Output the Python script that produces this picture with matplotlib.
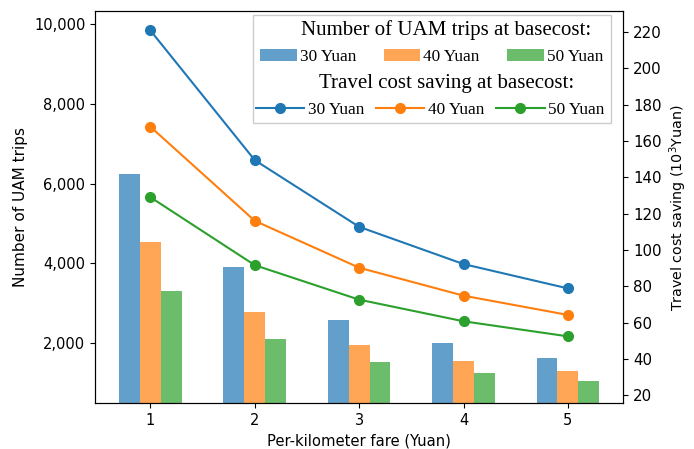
import matplotlib.pyplot as plt
import numpy as np
from matplotlib.patches import Rectangle
from matplotlib.ticker import FuncFormatter

fares = [1, 2, 3, 4, 5]
basecosts = ["30 Yuan", "40 Yuan", "50 Yuan"]

# number of UAM trips per basecost
trips_30 = [6250, 3915, 2585, 2000, 1625]
trips_40 = [4540, 2790, 1960, 1550, 1315]
trips_50 = [3300, 2110, 1535, 1250, 1060]

# travel cost saving (10^3 Yuan) per basecost
saving_30 = [220.8, 149.4, 112.7, 92.2, 78.8]
saving_40 = [167.8, 116.0, 90.2, 74.8, 64.2]
saving_50 = [129.0, 91.6, 72.6, 60.7, 52.4]

colors = ["#1f77b4", "#ff7f0e", "#2ca02c"]

fig = plt.figure(figsize=(6.94, 4.49), dpi=100)
ax = fig.add_axes([0.137, 0.102, 0.761, 0.873])
ax2 = ax.twinx()

x = np.array(fares)
w = 0.2
bars = []
for i, vals in enumerate([trips_30, trips_40, trips_50]):
    b = ax.bar(x + (i - 1) * w, vals, w, color=colors[i], alpha=0.7, label=basecosts[i])
    bars.append(b)

lines = []
for i, vals in enumerate([saving_30, saving_40, saving_50]):
    l, = ax2.plot(x, vals, "-o", color=colors[i], lw=1.5, ms=7, label=basecosts[i])
    lines.append(l)

ax.set_ylim(500, 10320)
ax2.set_ylim(15.6, 231.4)
ax.set_xticks(fares)
ax.set_yticks([2000, 4000, 6000, 8000, 10000])
ax.yaxis.set_major_formatter(FuncFormatter(lambda v, p: f"{int(v):,}"))
ax2.set_yticks(range(20, 221, 20))
ax.tick_params(labelsize=10.5)
ax2.tick_params(labelsize=10.8)

ax.set_xlabel("Per-kilometer fare (Yuan)", fontsize=10.6)
ax.set_ylabel("Number of UAM trips", fontsize=11)
ax2.set_ylabel("Travel cost saving (10$^3$Yuan)", fontsize=10.3)

serif = "Liberation Serif"

# shared frame around both legends
ax2.add_patch(Rectangle((0.299, 0.714), 0.678, 0.276, transform=ax2.transAxes,
                        facecolor="white", edgecolor="#cccccc", lw=1, zorder=4))

ax2.text(0.665, 0.952, "Number of UAM trips at basecost:", transform=ax2.transAxes,
         ha="center", va="center", family=serif, fontsize=15, zorder=5)
ax2.text(0.665, 0.816, "Travel cost saving at basecost:", transform=ax2.transAxes,
         ha="center", va="center", family=serif, fontsize=15, zorder=5)

leg1 = ax2.legend(bars, basecosts, ncol=3, loc="center left", bbox_to_anchor=(0.3125, 0.883),
                  frameon=False, prop={"family": serif, "size": 12.4},
                  handlelength=2.13, handletextpad=0.17, columnspacing=1.6,
                  borderpad=0, borderaxespad=0)
ax2.add_artist(leg1)

leg2 = ax2.legend(lines, basecosts, ncol=3, loc="center left", bbox_to_anchor=(0.305, 0.747),
                  frameon=False, prop={"family": serif, "size": 12.4},
                  handlelength=2.8, handletextpad=0.22, columnspacing=0.68,
                  borderpad=0, borderaxespad=0)

fig.savefig("out.png", dpi=100)
